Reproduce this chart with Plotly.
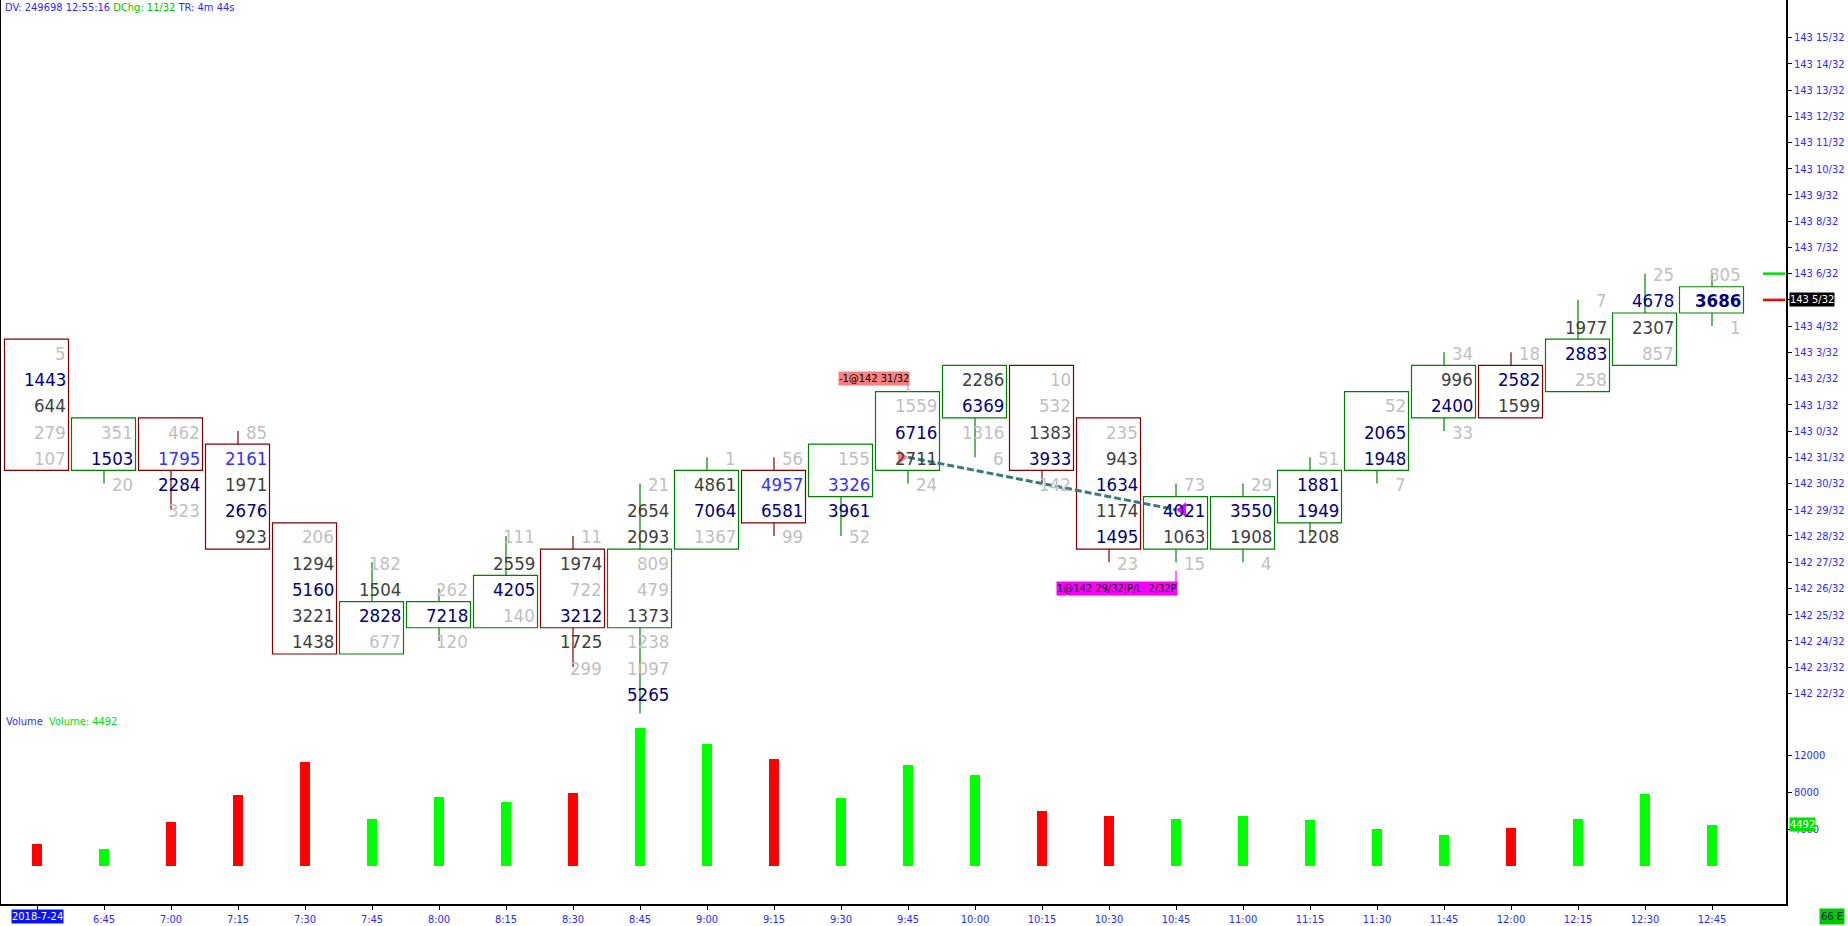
import plotly.graph_objects as go

# ---------------- data ----------------
times = ["6:30", "6:45", "7:00", "7:15", "7:30", "7:45", "8:00", "8:15", "8:30", "8:45",
         "9:00", "9:15", "9:30", "9:45", "10:00", "10:15", "10:30", "10:45", "11:00",
         "11:15", "11:30", "11:45", "12:00", "12:15", "12:30", "12:45"]
date_label = "2018-7-24"

# prices are expressed in 32nds above 142 (e.g. 37 -> 143 5/32)
top_level = [35, 32, 32, 32, 28, 27, 26, 28, 28, 30, 31, 31, 31, 33, 34, 34, 32, 30, 30,
             31, 33, 35, 35, 37, 38, 38]

cell_volumes = [
    [5, 1443, 644, 279, 107],
    [351, 1503, 20],
    [462, 1795, 2284, 323],
    [85, 2161, 1971, 2676, 923],
    [206, 1294, 5160, 3221, 1438],
    [182, 1504, 2828, 677],
    [262, 7218, 120],
    [111, 2559, 4205, 140],
    [11, 1974, 722, 3212, 1725, 299],
    [21, 2654, 2093, 809, 479, 1373, 1238, 1097, 5265],
    [1, 4861, 7064, 1367],
    [56, 4957, 6581, 99],
    [155, 3326, 3961, 52],
    [1559, 6716, 2711, 24],
    [2286, 6369, 1316, 6],
    [10, 532, 1383, 3933, 142],
    [235, 943, 1634, 1174, 1495, 23],
    [73, 4021, 1063, 15],
    [29, 3550, 1908, 4],
    [51, 1881, 1949, 1208],
    [52, 2065, 1948, 7],
    [34, 996, 2400, 33],
    [18, 2582, 1599],
    [7, 1977, 2883, 258],
    [25, 4678, 2307, 857],
    [805, 3686, 1],
]
# cell category: g = light, d = medium, n = heavy, b = highlighted
cell_class = ["gndgg", "gng", "gbng", "gbdnd", "gdndd", "gdng", "gng", "gdng", "gdgndg",
              "gddggdggn", "gdng", "gbng", "gbng", "gndg", "dngg", "ggdng", "gdndng",
              "gndg", "gndg", "gnnd", "gnng", "gdng", "gnd", "gdng", "gndg", "gng"]

opens = [35, 31, 32, 31, 28, 24, 25, 25, 27, 25, 28, 30, 30, 31, 33, 34, 32, 28, 28, 29,
         31, 33, 34, 34, 35, 37]
closes = [31, 32, 31, 28, 24, 25, 25, 26, 25, 27, 30, 29, 31, 33, 34, 31, 28, 29, 29, 30,
          33, 34, 33, 35, 36, 37]
highs = [35, 32, 32, 32, 28, 27, 26, 28, 28, 30, 31, 31, 31, 33, 34, 34, 32, 30, 30, 31,
         33, 35, 35, 37, 38, 38]
lows = [31, 30, 29, 28, 24, 24, 24, 25, 23, 21, 28, 28, 28, 30, 31, 30, 27, 27, 27, 28,
        30, 32, 33, 34, 35, 36]
up_bar = [False, True, False, False, False, True, True, True, False, True, True, False,
          True, True, True, False, False, True, True, True, True, True, False, True, True, True]

volumes = [2478, 1874, 4864, 7816, 11319, 5191, 7600, 7015, 7943, 15029, 13293, 11693,
           7494, 11010, 9977, 6000, 5504, 5172, 5491, 5089, 4072, 3463, 4199, 5125, 7867, 4492]

price_ticks = list(range(22, 48))
volume_ticks = [4000, 8000, 12000]

entry_bar, entry_level, entry_text = 13, 31, "-1@142 31/32"
exit_bar, exit_level, exit_text = 17, 29, "1@142 29/32|P/L: 2/32P"
ask_level, bid_level, last_level = 38, 37, 37
info_dv, info_time, info_dchg, info_tr = "249698", "12:55:16", "11/32", "4m 44s"
status_text = "66 E"

# ---------------- style ----------------
NUMFONT = "DejaVu Sans Condensed, DejaVu Sans, Liberation Sans"
SMALLFONT = "DejaVu Sans Condensed, Liberation Sans, DejaVu Sans"
cls_color = {"g": "#c0c0c0", "d": "#404040", "n": "#00007a", "b": "#3333ff"}
AXBLUE = "#2a2aff"
UPC, DNC = "#008000", "#800000"


def price_text(lv):
    return f"{142 + lv // 32} {lv % 32}/32"


fig = go.Figure()

fig.add_trace(go.Scatter(x=list(range(len(times))), y=closes, mode="markers",
                         marker=dict(opacity=0), hoverinfo="skip", showlegend=False,
                         xaxis="x", yaxis="y"))

fig.add_trace(go.Bar(x=list(range(len(times))), y=volumes, width=10 / 67,
                     marker=dict(color=["#00ff00" if u else "#ff0000" for u in up_bar],
                                 line=dict(width=0)),
                     hoverinfo="skip", showlegend=False, xaxis="x", yaxis="y2"))

shapes = []
annotations = []

for i in range(len(times)):
    col = UPC if up_bar[i] else DNC
    btop = max(opens[i], closes[i])
    bbot = min(opens[i], closes[i])
    if highs[i] > btop:
        shapes.append(dict(type="line", xref="x", yref="y", x0=i, x1=i,
                           y0=btop + 0.5, y1=highs[i], line=dict(color=col, width=1.2)))
    if lows[i] < bbot:
        shapes.append(dict(type="line", xref="x", yref="y", x0=i, x1=i,
                           y0=bbot - 0.5, y1=lows[i], line=dict(color=col, width=1.2)))
    shapes.append(dict(type="rect", xref="x", yref="y", xsizemode="pixel", xanchor=i,
                       x0=-32.5, x1=31.5, y0=bbot - 0.5, y1=btop + 0.5,
                       line=dict(color=col, width=1.2), fillcolor="rgba(0,0,0,0)"))
    for k, v in enumerate(cell_volumes[i]):
        lv = top_level[i] - k
        txt = str(v)
        if i == len(times) - 1 and lv == last_level:
            txt = f"<b>{v}</b>"
        annotations.append(dict(x=i, y=lv, xref="x", yref="y", text=txt, showarrow=False,
                                xanchor="right", yanchor="middle", xshift=30, yshift=-1,
                                borderpad=0,
                                font=dict(family=NUMFONT, size=18.5,
                                          color=cls_color[cell_class[i][k]])))

# trade markers
TEAL = "#3a7c7c"
SALMON = "#f88080"
MAG = "#ff00ff"
shapes.append(dict(type="line", xref="x", yref="y", x0=entry_bar, y0=entry_level,
                   x1=exit_bar, y1=exit_level, line=dict(color=TEAL, width=3, dash="7px,3px")))
shapes.append(dict(type="path", xref="x", yref="y", xsizemode="pixel", ysizemode="pixel",
                   xanchor=entry_bar, yanchor=entry_level,
                   path="M -10,-7.5 L 0,0 L -10,7.5 Z", fillcolor=SALMON, line=dict(width=0)))
shapes.append(dict(type="path", xref="x", yref="y", xsizemode="pixel", ysizemode="pixel",
                   xanchor=exit_bar, yanchor=exit_level,
                   path="M 10,-7.5 L 0,0 L 10,7.5 Z", fillcolor=MAG, line=dict(width=0)))
entry_lab = max(opens[entry_bar], closes[entry_bar]) + 1
exit_lab = lows[exit_bar] - 1
shapes.append(dict(type="line", xref="x", yref="y", x0=entry_bar, x1=entry_bar,
                   y0=entry_lab - 0.5, y1=entry_lab - 0.23, line=dict(color=SALMON, width=1.2)))
shapes.append(dict(type="line", xref="x", yref="y", x0=exit_bar, x1=exit_bar,
                   y0=exit_lab + 0.23, y1=exit_lab + 0.67, line=dict(color=MAG, width=1.2)))
annotations.append(dict(x=entry_bar, y=entry_lab, xref="x", yref="y", text=entry_text,
                        showarrow=False, xanchor="right", yanchor="middle", xshift=1.5,
                        bgcolor=SALMON, borderpad=0,
                        font=dict(family=SMALLFONT, size=11, color="#000000")))
annotations.append(dict(x=exit_bar, y=exit_lab, xref="x", yref="y", text=exit_text,
                        showarrow=False, xanchor="right", yanchor="middle", xshift=1.5,
                        bgcolor=MAG, borderpad=0,
                        font=dict(family=SMALLFONT, size=11, color="#000000")))

# bid / ask ticks near the price scale
shapes.append(dict(type="line", xref="paper", yref="y", xsizemode="pixel", xanchor=1,
                   x0=-23, x1=-1, y0=ask_level, y1=ask_level,
                   line=dict(color="#00e000", width=2.5)))
shapes.append(dict(type="line", xref="paper", yref="y", xsizemode="pixel", xanchor=1,
                   x0=-23, x1=-1, y0=bid_level, y1=bid_level,
                   line=dict(color="#ff0000", width=2.5)))
# left border
shapes.append(dict(type="line", xref="paper", yref="paper", x0=0, x1=0, y0=0, y1=1,
                   line=dict(color="#000000", width=2)))

annotations.append(dict(x=1, y=last_level, xref="paper", yref="y", text=price_text(last_level),
                        showarrow=False, xanchor="left", yanchor="middle", xshift=3,
                        bgcolor="#000000", borderpad=0,
                        font=dict(family=SMALLFONT, size=11, color="#ffffff")))
annotations.append(dict(x=1, y=volumes[-1], xref="paper", yref="y2", text=str(volumes[-1]),
                        showarrow=False, xanchor="left", yanchor="middle", xshift=3,
                        bgcolor="#00e000", borderpad=0,
                        font=dict(family=SMALLFONT, size=11, color="#ffffff")))
annotations.append(dict(x=0, y=0, xref="x", yref="paper", text=date_label,
                        showarrow=False, xanchor="center", yanchor="top", yshift=-5,
                        bgcolor="#0a14f0", borderpad=0,
                        font=dict(family=SMALLFONT, size=11, color="#ffffff")))
annotations.append(dict(x=1, y=0, xref="paper", yref="paper", text=status_text,
                        showarrow=False, xanchor="left", yanchor="top", xshift=33, yshift=-4,
                        bgcolor="#00c800", borderpad=1,
                        font=dict(family=SMALLFONT, size=11, color="#101060")))
annotations.append(dict(
    x=0, y=1, xref="paper", yref="paper", showarrow=False, xanchor="left", yanchor="top",
    xshift=4, yshift=0, borderpad=0,
    text=(f"<span style='color:{AXBLUE}'>DV: {info_dv} {info_time} </span>"
          f"<span style='color:#00c000'>DChg: {info_dchg}</span>"
          f"<span style='color:{AXBLUE}'> TR: {info_tr}</span>"),
    font=dict(family=SMALLFONT, size=11)))
annotations.append(dict(
    x=0, y=0.2107, xref="paper", yref="paper", showarrow=False, xanchor="left",
    yanchor="middle", xshift=5, yshift=-8, borderpad=0,
    text=(f"<span style='color:{AXBLUE}'>Volume</span>  "
          f"<span style='color:#00e000'>Volume: {volumes[-1]}</span>"),
    font=dict(family=SMALLFONT, size=11)))

# the last price is shown by its own black label, so its plain tick text is left blank
price_ticktext = ["" if v == last_level else price_text(v) for v in price_ticks]

fig.update_layout(
    width=1848, height=926,
    margin=dict(l=0, r=62, t=0, b=18),
    paper_bgcolor="#ffffff", plot_bgcolor="#ffffff",
    showlegend=False, bargap=0,
    xaxis=dict(range=[-37 / 67, 1749 / 67], tickvals=list(range(len(times))),
               ticktext=[""] + times[1:], ticks="outside", ticklen=4, tickcolor="#000000",
               showline=True, linecolor="#000000", linewidth=1.5, showgrid=False,
               zeroline=False, anchor="y2",
               tickfont=dict(family=SMALLFONT, size=11, color=AXBLUE)),
    yaxis=dict(domain=[0.2107, 1], range=[21.231, 48.431], side="right", anchor="x",
               tickvals=price_ticks, ticktext=price_ticktext,
               ticks="outside", ticklen=4, tickcolor="#000000", showline=True,
               linecolor="#000000", linewidth=1.5, showgrid=False, zeroline=False,
               tickfont=dict(family=SMALLFONT, size=11, color=AXBLUE)),
    yaxis2=dict(domain=[0, 0.2107], range=[-4152, 16585], side="right", anchor="x",
                tickvals=volume_ticks, ticktext=[str(v) for v in volume_ticks],
                ticks="outside", ticklen=4, tickcolor="#000000", showline=True,
                linecolor="#000000", linewidth=1.5, showgrid=False, zeroline=False,
                tickfont=dict(family=SMALLFONT, size=11, color=AXBLUE)),
    shapes=shapes,
    annotations=annotations,
)

fig.write_html("out.html", config={"displayModeBar": False},
               post_script="document.body.style.margin='0';document.body.style.overflow='hidden';")
